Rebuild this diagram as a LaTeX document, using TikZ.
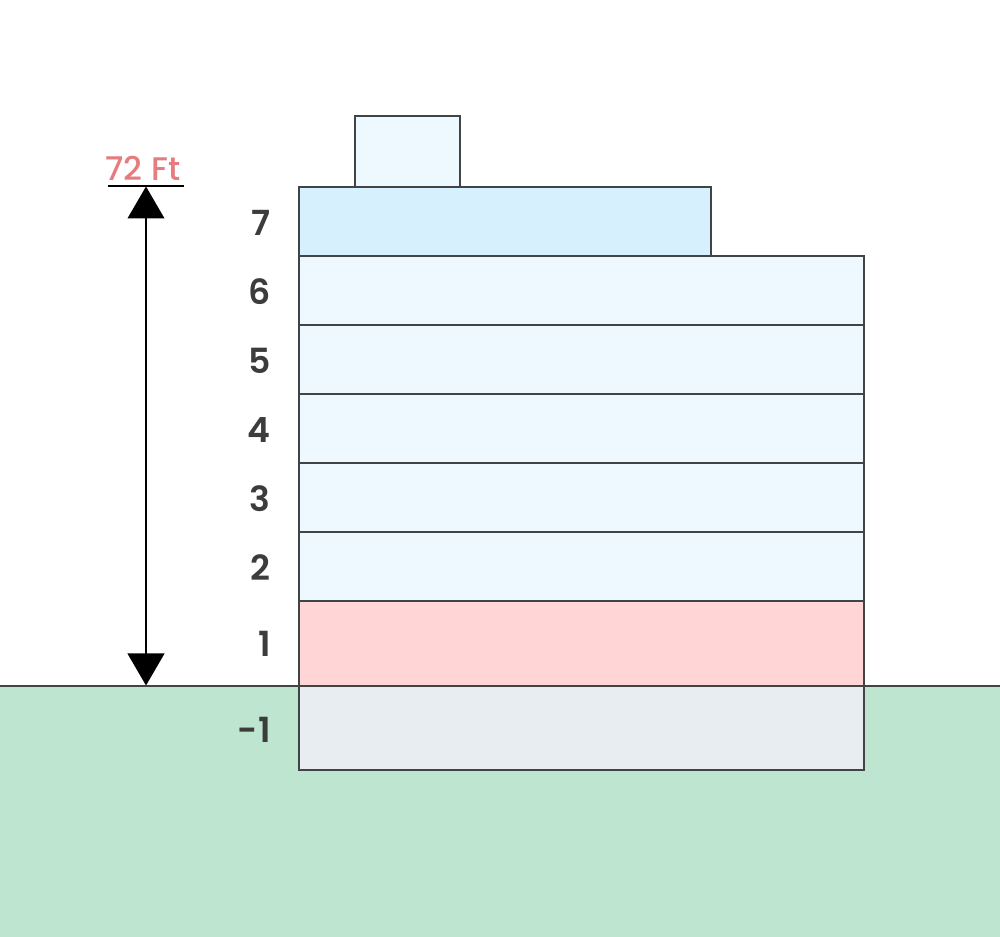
\documentclass[tikz,border=0pt]{standalone}
\usepackage{fontspec}
\setmainfont[BoldFont={Poppins SemiBold}]{Poppins Medium}
\usetikzlibrary{arrows.meta}
\definecolor{linec}{HTML}{3F4444}
\definecolor{floorc}{HTML}{EDF9FF}
\definecolor{topc}{HTML}{D7F0FD}
\definecolor{redc}{HTML}{FFD5D5}
\definecolor{basec}{HTML}{E8EDF1}
\definecolor{groundc}{HTML}{BDE5CF}
\definecolor{labelc}{HTML}{3C3C3C}
\definecolor{heightc}{HTML}{E57C7E}
\tikzset{
  x=0.75pt,y=-0.75pt,
  box/.style={draw=linec,line width=1.5pt,inner sep=0pt,outer sep=0pt,anchor=north west},
  floorbox/.style={box,fill=floorc,minimum width=423.75pt,minimum height=51.75pt},
  lab/.style={font=\bfseries\fontsize{26}{26}\selectfont,text=labelc,inner sep=0pt,anchor=base east},
  dim/.style={draw=black,line width=1.5pt},
  dimarrow/.style={dim,{Triangle[length=24pt,width=27.5pt]}-{Triangle[length=24pt,width=27.5pt]},shorten <=0pt,shorten >=0pt}
}
\begin{document}
\begin{tikzpicture}
\useasboundingbox (0,0) rectangle (1000,937);
\fill[white] (0,0) rectangle (1000,937);
\fill[groundc] (0,685.5) rectangle (1000,937);
\coordinate (gl) at (0,685.5);
\coordinate (gr) at (1000,685.5);
\coordinate (top) at (146,186.5);
\coordinate (bot) at (146,685.5);
\coordinate (tl) at (108,186.5);
\coordinate (tr) at (184,186.5);
\draw[draw=linec,line width=1.5pt] (gl) -- (gr);
\node[box,fill=floorc,minimum width=78.75pt,minimum height=53pt] (roof) at (355,116.5) {};
\node[box,fill=topc,minimum width=309pt,minimum height=52pt] (f7) at (298.5,187) {};
\node[floorbox] (f6) at (298.5,256.5) {};
\node[floorbox] (f5) at (298.5,325.5) {};
\node[floorbox] (f4) at (298.5,394.5) {};
\node[floorbox] (f3) at (298.5,463.5) {};
\node[floorbox] (f2) at (298.5,532.5) {};
\node[box,fill=redc,minimum width=423.75pt,minimum height=63pt] (f1) at (298.5,601.5) {};
\node[box,fill=basec,minimum width=423.75pt,minimum height=63pt] (fb) at (298.5,685.5) {};
\draw[dim] (tl) -- (tr);
\draw[dimarrow] (top) -- (bot);
\node[font=\fontsize{24.5}{24.5}\selectfont,text=heightc,inner sep=0pt,anchor=base] (h) at (143,181) {72 Ft};
\node[lab] (l7) at (271,236) {7};
\node[lab] (l6) at (271,305) {6};
\node[lab] (l5) at (271,374) {5};
\node[lab] (l4) at (271,443) {4};
\node[lab] (l3) at (271,512) {3};
\node[lab] (l2) at (271,581) {2};
\node[lab] (l1) at (271,657) {1};
\node[lab] (lb) at (271,742) {-1};
\end{tikzpicture}
\end{document}
